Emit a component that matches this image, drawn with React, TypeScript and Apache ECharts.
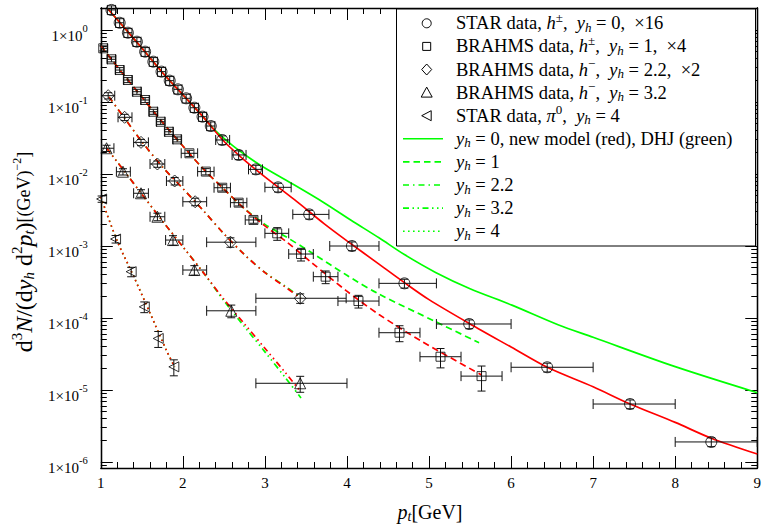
import React, { useEffect, useRef } from "react";
import * as echarts from "echarts";

const FONT = "Liberation Serif, Times New Roman, serif";

// ---------- axis ranges / ticks ----------
const X_MIN = 1;
const X_MAX = 9;
const Y_MIN = -6.083; // log10 of bottom edge
const Y_MAX = 0.3056; // log10 of top edge
const yExponents = [-6, -5, -4, -3, -2, -1, 0];
const xTickLabels = ["1", "2", "3", "4", "5", "6", "7", "8", "9"];

// ---------- data points ----------
// STAR h±, yh = 0, ×16 (circles)
const starX = [1.13, 1.23, 1.33, 1.44, 1.54, 1.64, 1.74, 1.84, 1.94, 2.04, 2.14, 2.24, 2.34, 2.48, 2.68, 2.89, 3.16, 3.54, 4.06, 4.7, 5.49, 6.44, 7.45, 8.44];
const starY = [1.9, 1.26, 0.917, 0.688, 0.5, 0.363, 0.264, 0.198, 0.15, 0.1125, 0.0833, 0.0625, 0.0464, 0.0297, 0.0184, 0.0116, 0.00653, 0.00275, 0.001, 3.03e-4, 8.26e-5, 2.07e-5, 6.39e-6, 1.9e-6];
const starXLo = [1.08, 1.18, 1.28, 1.39, 1.49, 1.59, 1.69, 1.79, 1.89, 1.99, 2.09, 2.19, 2.29, 2.4, 2.6, 2.8, 3.0, 3.34, 3.79, 4.39, 5.09, 6.0, 7.0, 8.0];
const starXHi = [1.18, 1.28, 1.38, 1.49, 1.59, 1.69, 1.79, 1.89, 1.99, 2.09, 2.19, 2.29, 2.39, 2.57, 2.77, 2.97, 3.32, 3.78, 4.39, 5.09, 6.0, 7.0, 8.0, 9.0];
const starRelErr = [0.14, 0.14, 0.14, 0.14, 0.14, 0.14, 0.14, 0.14, 0.14, 0.14, 0.14, 0.14, 0.14, 0.14, 0.14, 0.14, 0.14, 0.14, 0.14, 0.14, 0.14, 0.14, 0.14, 0.14];

// BRAHMS h±, yh = 1, ×4 (squares)
const brA_X = [1.03, 1.13, 1.23, 1.33, 1.44, 1.54, 1.64, 1.73, 1.83, 1.93, 2.08, 2.28, 2.48, 2.68, 2.86, 3.15, 3.44, 3.74, 4.14, 4.64, 5.14, 5.64];
const brA_Y = [0.557, 0.392, 0.278, 0.202, 0.139, 0.1066, 0.0733, 0.0532, 0.0386, 0.0303, 0.0194, 0.0108, 0.00645, 0.004, 0.0023, 0.0015, 7.74e-4, 3.75e-4, 1.72e-4, 6.25e-5, 2.9e-5, 1.56e-5];
const brA_XLo = [1.0, 1.08, 1.18, 1.28, 1.39, 1.49, 1.59, 1.68, 1.78, 1.88, 1.98, 2.18, 2.38, 2.58, 2.76, 3.0, 3.29, 3.59, 3.89, 4.39, 4.89, 5.39];
const brA_XHi = [1.08, 1.18, 1.28, 1.38, 1.49, 1.59, 1.69, 1.78, 1.88, 1.98, 2.18, 2.38, 2.58, 2.78, 2.96, 3.29, 3.59, 3.89, 4.39, 4.89, 5.39, 5.89];
const brA_RelErr = [0.08, 0.08, 0.08, 0.08, 0.08, 0.08, 0.08, 0.08, 0.08, 0.08, 0.1, 0.1, 0.1, 0.1, 0.1, 0.2, 0.2, 0.2, 0.2, 0.25, 0.3, 0.38];

// BRAHMS h−, yh = 2.2, ×2 (diamonds)
const brB_X = [1.09, 1.29, 1.49, 1.69, 1.9, 2.15, 2.58, 3.43];
const brB_Y = [0.1224, 0.0613, 0.0275, 0.01377, 0.008, 0.00412, 0.00113, 1.88e-4];
const brB_XLo = [1.01, 1.21, 1.4, 1.6, 1.8, 2.0, 2.29, 2.89];
const brB_XHi = [1.17, 1.38, 1.58, 1.78, 2.0, 2.29, 2.89, 3.99];
const brB_RelErr = [0.1, 0.1, 0.1, 0.1, 0.12, 0.12, 0.15, 0.15];

// BRAHMS h−, yh = 3.2 (triangles)
const brC_X = [1.07, 1.27, 1.49, 1.69, 1.88, 2.14, 2.59, 3.43];
const brC_Y = [0.0228, 0.01076, 0.0054, 0.00255, 0.00121, 4.64e-4, 1.26e-4, 1.24e-5];
const brC_XLo = [1.01, 1.19, 1.4, 1.6, 1.79, 2.0, 2.29, 2.89];
const brC_XHi = [1.16, 1.36, 1.58, 1.78, 2.0, 2.29, 2.89, 4.0];
const brC_RelErr = [0.1, 0.1, 0.12, 0.12, 0.15, 0.15, 0.2, 0.25];

// STAR π0, yh = 4 (left triangles)
const pi0X = [1.01, 1.18, 1.37, 1.53, 1.7, 1.89];
const pi0Y = [0.0045, 0.00125, 4.4e-4, 1.43e-4, 5.2e-5, 2.1e-5];
const pi0RelErr = [0.1, 0.12, 0.15, 0.17, 0.25, 0.25];

// ---------- model curves ----------
const red0X = [1.09, 1.25, 1.5, 1.75, 2.0, 2.25, 2.5, 2.75, 3.0, 3.36, 3.72, 4.0, 4.39, 4.7, 5.0, 5.49, 6.0, 6.44, 7.0, 7.45, 8.0, 8.44, 9.0];
const red0Y = [1.94, 1.2, 0.562, 0.257, 0.126, 0.0617, 0.0285, 0.0156, 0.00912, 0.0044, 0.00205, 0.00118, 5.6e-4, 3.1e-4, 1.8e-4, 8.4e-5, 3.95e-5, 2.07e-5, 1.11e-5, 6.4e-6, 3.55e-6, 2.14e-6, 1.29e-6];
const green0X = [1.09, 1.25, 1.5, 1.75, 2.0, 2.25, 2.39, 2.6, 2.8, 3.0, 3.36, 3.72, 4.05, 4.39, 4.7, 5.08, 5.5, 6.01, 6.58, 7.0, 8.0, 9.0];
const green0Y = [1.94, 1.2, 0.562, 0.257, 0.126, 0.0617, 0.0407, 0.0252, 0.0171, 0.0121, 7.03e-3, 4.0e-3, 2.28e-3, 1.3e-3, 7.6e-4, 4.3e-4, 2.55e-4, 1.51e-4, 8.0e-5, 5.4e-5, 2.11e-5, 9.18e-6];

const red1X = [1.0, 1.25, 1.5, 1.75, 2.0, 2.25, 2.5, 2.75, 3.0, 3.25, 3.58, 3.99, 4.39, 4.92, 5.64];
const red1Y = [0.603, 0.263, 0.1175, 0.0525, 0.0245, 0.01175, 0.00617, 0.00331, 0.0019, 0.001175, 5.75e-4, 2.4e-4, 1.12e-4, 4.68e-5, 1.62e-5];
const green1X = [1.0, 1.25, 1.5, 1.75, 2.0, 2.25, 2.5, 2.75, 3.0, 3.24, 3.58, 3.99, 4.39, 5.08, 5.61];
const green1Y = [0.603, 0.263, 0.1175, 0.0525, 0.0245, 0.01175, 0.00617, 0.00331, 0.002, 0.00138, 7.94e-4, 3.98e-4, 2.15e-4, 8.9e-5, 4.54e-5];

const red22X = [1.1, 1.3, 1.5, 1.75, 2.0, 2.25, 2.5, 2.75, 3.0, 3.25, 3.44];
const red22Y = [0.1175, 0.0575, 0.0282, 0.0126, 0.0063, 0.0031, 0.00148, 7.6e-4, 4.27e-4, 2.69e-4, 1.86e-4];
const green22X = [1.1, 1.3, 1.5, 1.75, 2.0, 2.25, 2.5, 2.75, 3.0, 3.25, 3.44];
const green22Y = [0.1175, 0.0575, 0.0282, 0.0126, 0.0063, 0.0031, 0.00148, 7.6e-4, 4.3e-4, 2.75e-4, 1.92e-4];

const red32X = [1.07, 1.3, 1.5, 1.75, 2.0, 2.25, 2.5, 2.75, 3.0, 3.25, 3.42];
const red32Y = [0.0229, 0.01047, 0.00525, 0.00224, 9.77e-4, 4.27e-4, 1.82e-4, 8.3e-5, 3.8e-5, 1.74e-5, 1.0e-5];
const green32X = [1.07, 1.3, 1.5, 1.75, 2.0, 2.25, 2.5, 2.75, 3.0, 3.25, 3.44];
const green32Y = [0.0229, 0.01047, 0.00525, 0.00224, 9.77e-4, 4.27e-4, 1.74e-4, 7.6e-5, 3.39e-5, 1.48e-5, 7.76e-6];

const red4X = [1.0, 1.2, 1.4, 1.6, 1.8, 1.9];
const red4Y = [4.79e-3, 1.175e-3, 3.8e-4, 1.175e-4, 3.55e-5, 2.09e-5];
const green4X = [1.0, 1.2, 1.4, 1.6, 1.8, 1.9];
const green4Y = [4.79e-3, 1.175e-3, 3.8e-4, 1.175e-4, 3.55e-5, 2.09e-5];

// ---------- styles ----------
const RED = "#ff0000";
const GREEN = "#00ff00";
const DASH = [6.5, 4];
const DASHDOT = [6, 4, 1.5, 4];
const DASHDOTDOT = [6, 3.5, 1.5, 3.5, 1.5, 3.5];
const DOT = [1.6, 3.4];

const lg = (v: number) => Math.log10(v);

function curve(xs: number[], ys: number[], color: string, type: any, z: number) {
  return {
    type: "line",
    data: xs.map((x, i) => [x, lg(ys[i])]),
    symbol: "none",
    showSymbol: false,
    smooth: 0.3,
    silent: true,
    z,
    lineStyle: { color, width: 1.7, type },
  };
}

function markers(xs: number[], ys: number[], symbol: string, size: number) {
  return {
    type: "scatter",
    data: xs.map((x, i) => [x, lg(ys[i])]),
    symbol,
    symbolSize: size,
    silent: true,
    clip: false,
    z: 6,
    itemStyle: { color: "rgba(0,0,0,0)", borderColor: "#000", borderWidth: 1 },
  };
}

const renderErr = (_p: any, api: any) => {
  const x = api.value(0);
  const y = api.value(1);
  const xl = api.value(2);
  const xh = api.value(3);
  const yl = api.value(4);
  const yh = api.value(5);
  const c = api.coord([x, y]);
  const L = api.coord([xl, y]);
  const R = api.coord([xh, y]);
  const B = api.coord([x, yl]);
  const T = api.coord([x, yh]);
  const st = { stroke: "#111", lineWidth: 1 };
  const ch: any[] = [];
  const ln = (x1: number, y1: number, x2: number, y2: number) =>
    ch.push({ type: "line", shape: { x1, y1, x2, y2 }, style: st });
  if (xh - xl > 1e-9) {
    ln(L[0], c[1], R[0], c[1]);
    ln(L[0], c[1] - 5, L[0], c[1] + 5);
    ln(R[0], c[1] - 5, R[0], c[1] + 5);
  }
  ln(c[0], T[1], c[0], B[1]);
  ln(c[0] - 4, T[1], c[0] + 4, T[1]);
  ln(c[0] - 4, B[1], c[0] + 4, B[1]);
  return { type: "group", children: ch };
};

function errors(xs: number[], ys: number[], xlo: number[], xhi: number[], rel: number[]) {
  return {
    type: "custom",
    silent: true,
    clip: false,
    z: 5,
    renderItem: renderErr,
    data: xs.map((x, i) => [x, lg(ys[i]), xlo[i], xhi[i], lg(ys[i] * (1 - rel[i])), lg(ys[i] * (1 + rel[i]))]),
  };
}

// minor tick positions of the log axis (2..9 × 10^n)
const minorY: number[] = [];
for (let n = -7; n <= 0; n++) {
  for (let k = 2; k <= 9; k++) {
    const v = n + Math.log10(k);
    if (v > Y_MIN && v < Y_MAX) minorY.push(v);
  }
}

const axisLineStyle = { color: "#000", width: 1.3 };
const tickLineStyle = { color: "#000", width: 1 };

function xAxisDef(position: string, labels: boolean) {
  return {
    type: "value",
    min: X_MIN,
    max: X_MAX,
    interval: 1,
    position,
    axisLine: { show: true, onZero: false, lineStyle: axisLineStyle },
    axisTick: { show: true, inside: true, length: 12, lineStyle: tickLineStyle },
    minorTick: { show: true, splitNumber: 5, length: 6, lineStyle: tickLineStyle },
    splitLine: { show: false },
    minorSplitLine: { show: false },
    axisLabel: labels
      ? {
          show: true,
          margin: 7,
          fontFamily: FONT,
          fontSize: 15,
          color: "#000",
          formatter: (v: number) => xTickLabels[Math.round(v) - 1] ?? "",
        }
      : { show: false },
  };
}

function yAxisDef(position: string, ticks: number[], len: number, labels: boolean) {
  return {
    type: "value",
    min: Y_MIN,
    max: Y_MAX,
    position,
    axisLine: { show: true, onZero: false, lineStyle: axisLineStyle },
    axisTick: { show: true, inside: true, length: len, customValues: ticks, lineStyle: tickLineStyle },
    splitLine: { show: false },
    axisLabel: labels
      ? {
          show: true,
          margin: 13,
          customValues: yExponents,
          formatter: (v: number) => `{b|1×10}{s|${Math.round(v)}}`,
          rich: {
            b: { fontFamily: FONT, fontSize: 15, color: "#000", padding: [12, 0, 0, 0] },
            s: { fontFamily: FONT, fontSize: 10.5, color: "#000", padding: [0, 0, 4, 0] },
          },
        }
      : { show: false },
  };
}

// ---------- legend (graphic) ----------
const LEG_FS = 18.5;
const legRich = {
  n: { fontFamily: FONT, fontSize: LEG_FS, fill: "#000" },
  i: { fontFamily: FONT, fontSize: LEG_FS, fontStyle: "italic", fill: "#000" },
  sup: { fontFamily: FONT, fontSize: 13, fill: "#000", padding: [0, 0, 12, 0] },
  sub: { fontFamily: FONT, fontSize: 13, fontStyle: "italic", fill: "#000", padding: [8, 0, 0, 0] },
};
const legendTexts = [
  "{n|STAR data, }{i|h}{sup|±}{n|,  }{i|y}{sub|h}{n| = 0,  ×16}",
  "{n|BRAHMS data, }{i|h}{sup|±}{n|,  }{i|y}{sub|h}{n| = 1,  ×4}",
  "{n|BRAHMS data, }{i|h}{sup|−}{n|,  }{i|y}{sub|h}{n| = 2.2,  ×2}",
  "{n|BRAHMS data, }{i|h}{sup|−}{n|,  }{i|y}{sub|h}{n| = 3.2}",
  "{n|STAR data, }{i|π}{sup|0}{n|,  }{i|y}{sub|h}{n| = 4}",
  "{i|y}{sub|h}{n| = 0, new model (red), DHJ (green)}",
  "{i|y}{sub|h}{n| = 1}",
  "{i|y}{sub|h}{n| = 2.2}",
  "{i|y}{sub|h}{n| = 3.2}",
  "{i|y}{sub|h}{n| = 4}",
];
const legendDash: any[] = [null, DASH, DASHDOT, DASHDOTDOT, DOT];

function buildLegend() {
  const els: any[] = [];
  const L = 396.5, T = 9, W = 359, H = 237;
  els.push({ type: "rect", z: 100, shape: { x: L, y: T, width: W, height: H }, style: { fill: "#fff", stroke: "#000", lineWidth: 1 } });
  const rowY = (i: number) => 23.3 + 23.1 * i;
  const mx = 426.7;
  const st = { fill: "none", stroke: "#000", lineWidth: 1 };
  let y = rowY(0);
  els.push({ type: "circle", z: 101, shape: { cx: mx, cy: y, r: 4.5 }, style: st });
  y = rowY(1);
  els.push({ type: "rect", z: 101, shape: { x: mx - 4, y: y - 4, width: 8, height: 8 }, style: st });
  y = rowY(2);
  els.push({ type: "polygon", z: 101, shape: { points: [[mx, y - 5.5], [mx + 5, y], [mx, y + 5.5], [mx - 5, y]] }, style: st });
  y = rowY(3);
  els.push({ type: "polygon", z: 101, shape: { points: [[mx, y - 5.5], [mx + 5.5, y + 4.5], [mx - 5.5, y + 4.5]] }, style: st });
  y = rowY(4);
  els.push({ type: "polygon", z: 101, shape: { points: [[mx - 5, y], [mx + 4.5, y - 5], [mx + 4.5, y + 5]] }, style: st });
  for (let k = 0; k < 5; k++) {
    const yy = rowY(5 + k);
    els.push({
      type: "line",
      z: 101,
      shape: { x1: 403, y1: yy, x2: 443, y2: yy },
      style: { stroke: GREEN, lineWidth: 1.6, lineDash: legendDash[k] || undefined },
    });
  }
  legendTexts.forEach((t, i) => {
    els.push({
      type: "text",
      z: 102,
      x: 456,
      y: rowY(i),
      style: { text: t, rich: legRich, fontFamily: FONT, fontSize: LEG_FS, fill: "#000", align: "left", verticalAlign: "middle" },
    });
  });
  return els;
}

const titleRich = {
  n: { fontFamily: FONT, fontSize: 24, fill: "#000" },
  i: { fontFamily: FONT, fontSize: 24, fontStyle: "italic", fill: "#000" },
  sup: { fontFamily: FONT, fontSize: 15, fill: "#000", padding: [0, 0, 14, 0] },
  sub: { fontFamily: FONT, fontSize: 15, fontStyle: "italic", fill: "#000", padding: [9, 0, 0, 0] },
  s: { fontFamily: FONT, fontSize: 18, fill: "#000" },
  ssup: { fontFamily: FONT, fontSize: 12, fill: "#000", padding: [0, 0, 14, 0] },
};
const xTitleRich = {
  n: { fontFamily: FONT, fontSize: 20, fill: "#000" },
  i: { fontFamily: FONT, fontSize: 20, fontStyle: "italic", fill: "#000" },
  sub: { fontFamily: FONT, fontSize: 14, fontStyle: "italic", fill: "#000", padding: [8, 0, 0, 0] },
};

function buildTitles() {
  return [
    {
      type: "text",
      z: 50,
      x: 24,
      y: 252,
      rotation: Math.PI / 2,
      style: {
        text: "{n|d}{sup|3}{i|N}{n|/(d}{i|y}{sub|h}{n| d}{sup|2}{i|p}{sub|t}{n|)}{s|[(GeV)}{ssup|−2}{s|]}",
        rich: titleRich,
        fontFamily: FONT,
        fontSize: 24,
        fill: "#000",
        align: "center",
        verticalAlign: "middle",
      },
    },
    {
      type: "text",
      z: 50,
      x: 430,
      y: 512,
      style: {
        text: "{i|p}{sub|t}{n|[GeV]}",
        rich: xTitleRich,
        fontFamily: FONT,
        fontSize: 20,
        fill: "#000",
        align: "center",
        verticalAlign: "middle",
      },
    },
  ];
}

function buildOption() {
  return {
    animation: false,
    backgroundColor: "#fff",
    grid: { left: 100.8, right: 5, top: 8, bottom: 56, containLabel: false },
    xAxis: [xAxisDef("bottom", true), xAxisDef("top", false)],
    yAxis: [
      yAxisDef("left", yExponents, 12, true),
      yAxisDef("left", minorY, 6, false),
      yAxisDef("right", yExponents, 12, false),
      yAxisDef("right", minorY, 6, false),
    ],
    series: [
      curve(green0X, green0Y, GREEN, "solid", 2),
      curve(red0X, red0Y, RED, "solid", 3),
      curve(green1X, green1Y, GREEN, DASH, 2),
      curve(red1X, red1Y, RED, DASH, 3),
      curve(green22X, green22Y, GREEN, DASHDOT, 2),
      curve(red22X, red22Y, RED, DASHDOT, 3),
      curve(green32X, green32Y, GREEN, DASHDOTDOT, 2),
      curve(red32X, red32Y, RED, DASHDOTDOT, 3),
      curve(green4X, green4Y, GREEN, DOT, 2),
      curve(red4X, red4Y, RED, DOT, 3),
      errors(starX, starY, starXLo, starXHi, starRelErr),
      errors(brA_X, brA_Y, brA_XLo, brA_XHi, brA_RelErr),
      errors(brB_X, brB_Y, brB_XLo, brB_XHi, brB_RelErr),
      errors(brC_X, brC_Y, brC_XLo, brC_XHi, brC_RelErr),
      errors(pi0X, pi0Y, pi0X, pi0X, pi0RelErr),
      markers(starX, starY, "circle", 11),
      markers(brA_X, brA_Y, "rect", 9),
      markers(brB_X, brB_Y, "diamond", 12),
      markers(brC_X, brC_Y, "triangle", 11),
      markers(pi0X, pi0Y, "path://M0 5L9 0L9 10Z", 10),
    ],
    graphic: [...buildLegend(), ...buildTitles()],
  };
}

export default function App() {
  const ref = useRef<HTMLDivElement>(null);
  useEffect(() => {
    if (!ref.current) return;
    const chart = echarts.init(ref.current, undefined, { renderer: "svg" });
    chart.setOption(buildOption() as any);
    return () => chart.dispose();
  }, []);
  return (
    <div
      ref={ref}
      style={{ position: "absolute", left: 0, top: 0, width: 764, height: 524, background: "#fff" }}
    />
  );
}
